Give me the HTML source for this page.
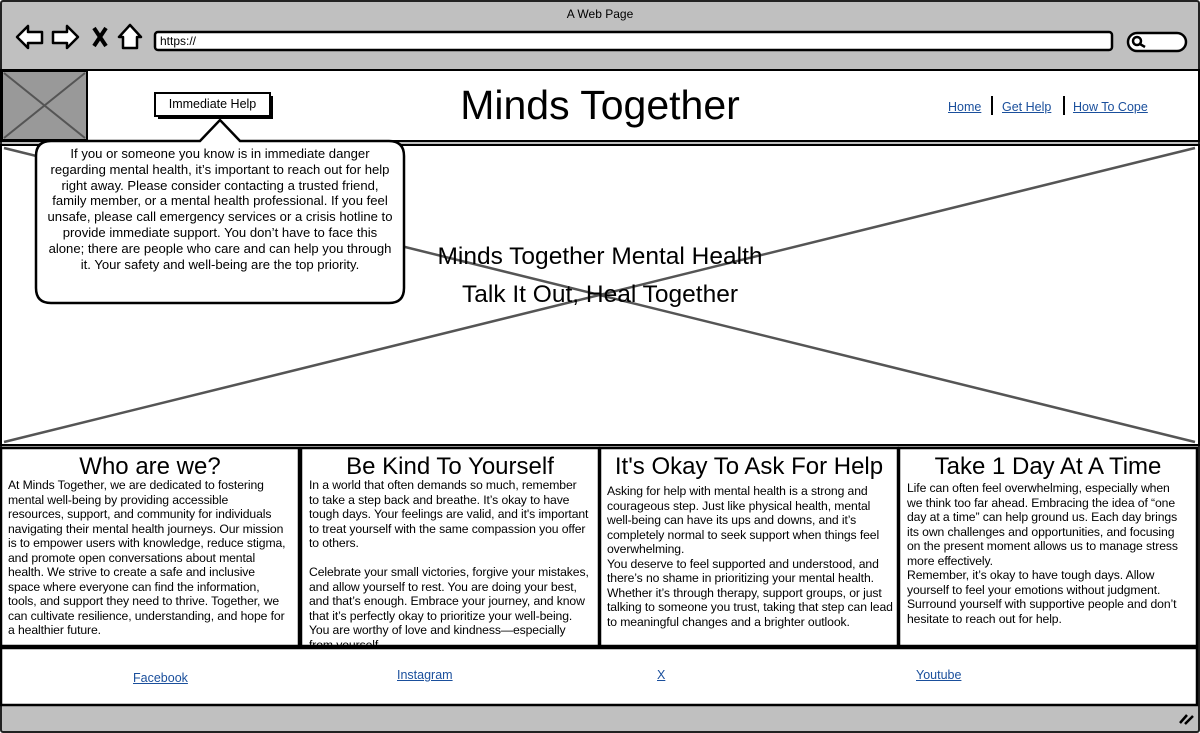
<!DOCTYPE html>
<html><head><meta charset="utf-8"><style>
*{margin:0;padding:0;box-sizing:border-box}
body{width:1200px;height:733px;position:relative;background:#fff;font-family:"Liberation Sans",sans-serif;color:#000;overflow:hidden}
.a{position:absolute}
.t{position:absolute;white-space:nowrap;font-size:12.2px;line-height:14.5px;letter-spacing:-0.1px}
.h{position:absolute;font-size:24px;text-align:center;white-space:nowrap}
a{color:#1a4f9c;text-decoration:underline;font-size:12.5px}
</style></head><body>
<div class="a" style="left:0;top:0;width:1200px;height:733px;background:#c0c0c0;border:2px solid #222;border-radius:3px"></div>
<div class="a" style="left:0;top:7px;width:1200px;text-align:center;font-size:12px">A Web Page</div>
<svg class="a" style="left:0;top:0" width="1200" height="733">
<g fill="#fff" stroke="#000" stroke-width="2.5" stroke-linejoin="round">
<path d="M17 37 L28 26 L28 32 L42 32 L42 43 L28 43 L28 48 Z"/>
<path d="M78 37 L67 26 L67 32 L53 32 L53 43 L67 43 L67 48 Z"/>
<path d="M130 25 L119 37 L123 37 L123 48 L137 48 L137 37 L141 37 Z"/>
</g>
<path d="M94 28 L106 46 M106 28 L94 46" stroke="#000" stroke-width="4"/>
<rect x="155" y="32" width="957" height="18" rx="3" fill="#fff" stroke="#000" stroke-width="2.5"/>
<rect x="1128" y="33" width="58" height="18" rx="9" fill="#fff" stroke="#000" stroke-width="2.5"/>
<circle cx="1137" cy="41" r="4" fill="none" stroke="#000" stroke-width="2.5"/><path d="M1140 44 L1145 47" stroke="#000" stroke-width="2.5"/>
<rect x="1" y="70" width="1198" height="71" fill="#fff" stroke="#000" stroke-width="2"/>
<rect x="2" y="71" width="85" height="69" fill="#999" stroke="#000" stroke-width="2"/>
<path d="M4 73 L85 138 M85 73 L4 138" stroke="#555" stroke-width="2"/>
<rect x="1" y="145" width="1198" height="300" fill="#fff" stroke="#000" stroke-width="2"/>
<path d="M4 148 L1195 442 M1195 148 L4 442" stroke="#555" stroke-width="2.5"/>
<rect x="1" y="448" width="298" height="198" fill="#fff" stroke="#000" stroke-width="2.5"/>
<rect x="301" y="448" width="298" height="198" fill="#fff" stroke="#000" stroke-width="2.5"/>
<rect x="600" y="448" width="298" height="198" fill="#fff" stroke="#000" stroke-width="2.5"/>
<rect x="899" y="448" width="298" height="198" fill="#fff" stroke="#000" stroke-width="2.5"/>
<rect x="1" y="648" width="1196" height="57" fill="#fff" stroke="#000" stroke-width="2.5"/>
<path d="M1180 723 L1187 715 M1185 724 L1193 716" stroke="#000" stroke-width="2.5"/>
<rect x="158" y="96" width="115" height="23" fill="#000"/>
<rect x="155" y="93" width="115" height="23" fill="#fff" stroke="#000" stroke-width="2"/>
<path d="M36 156 Q36 141 51 141 L200 141 L220 120 L240 141 L389 141 Q404 141 404 156 L404 288 Q404 303 389 303 L51 303 Q36 303 36 288 Z" fill="#fff" stroke="#000" stroke-width="2.5"/>
<path d="M992 96 L992 115 M1064 96 L1064 115" stroke="#000" stroke-width="2"/>
</svg>
<div class="a" style="left:155px;top:97px;width:115px;text-align:center;font-size:12.5px">Immediate Help</div>
<div class="a" style="left:300px;top:81px;width:600px;text-align:center;font-size:41px;line-height:48px">Minds Together</div>
<div class="a" style="left:948px;top:98px"><a>Home</a></div>
<div class="a" style="left:1002px;top:98px"><a>Get Help</a></div>
<div class="a" style="left:1073px;top:98px"><a>How To Cope</a></div>
<div class="a" style="left:300px;top:238px;width:600px;text-align:center;font-size:24.5px;line-height:38px">Minds Together Mental Health<br>Talk It Out, Heal Together</div>
<div class="t" style="left:36px;top:146px;width:368px;text-align:center;line-height:15.8px;font-size:13.1px;letter-spacing:0">If you or someone you know is in immediate danger<br>regarding mental health, it’s important to reach out for help<br>right away. Please consider contacting a trusted friend,<br>family member, or a mental health professional. If you feel<br>unsafe, please call emergency services or a crisis hotline to<br>provide immediate support. You don’t have to face this<br>alone; there are people who care and can help you through<br>it. Your safety and well-being are the top priority.</div>
<div class="h" style="left:2px;top:453px;width:296px">Who are we?</div>
<div class="h" style="left:302px;top:453px;width:296px">Be Kind To Yourself</div>
<div class="h" style="left:601px;top:453px;width:296px">It's Okay To Ask For Help</div>
<div class="h" style="left:900px;top:453px;width:296px">Take 1 Day At A Time</div>
<div class="t" style="left:8px;top:478px">At Minds Together, we are dedicated to fostering<br>mental well-being by providing accessible<br>resources, support, and community for individuals<br>navigating their mental health journeys. Our mission<br>is to empower users with knowledge, reduce stigma,<br>and promote open conversations about mental<br>health. We strive to create a safe and inclusive<br>space where everyone can find the information,<br>tools, and support they need to thrive. Together, we<br>can cultivate resilience, understanding, and hope for<br>a healthier future.</div>
<div class="a" style="left:303px;top:478px;width:294px;height:167px;overflow:hidden"><div class="t" style="left:6px;top:0">In a world that often demands so much, remember<br>to take a step back and breathe. It’s okay to have<br>tough days. Your feelings are valid, and it's important<br>to treat yourself with the same compassion you offer<br>to others.<br>&nbsp;<br>Celebrate your small victories, forgive your mistakes,<br>and allow yourself to rest. You are doing your best,<br>and that’s enough. Embrace your journey, and know<br>that it’s perfectly okay to prioritize your well-being.<br>You are worthy of love and kindness—especially<br>from yourself.</div></div>
<div class="t" style="left:607px;top:484px">Asking for help with mental health is a strong and<br>courageous step. Just like physical health, mental<br>well-being can have its ups and downs, and it’s<br>completely normal to seek support when things feel<br>overwhelming.<br>You deserve to feel supported and understood, and<br>there’s no shame in prioritizing your mental health.<br>Whether it’s through therapy, support groups, or just<br>talking to someone you trust, taking that step can lead<br>to meaningful changes and a brighter outlook.</div>
<div class="t" style="left:907px;top:481px">Life can often feel overwhelming, especially when<br>we think too far ahead. Embracing the idea of “one<br>day at a time” can help ground us. Each day brings<br>its own challenges and opportunities, and focusing<br>on the present moment allows us to manage stress<br>more effectively.<br>Remember, it’s okay to have tough days. Allow<br>yourself to feel your emotions without judgment.<br>Surround yourself with supportive people and don’t<br>hesitate to reach out for help.</div>
<div class="a" style="left:133px;top:669px"><a>Facebook</a></div>
<div class="a" style="left:397px;top:666px"><a>Instagram</a></div>
<div class="a" style="left:657px;top:666px"><a>X</a></div>
<div class="a" style="left:916px;top:666px"><a>Youtube</a></div>
<div class="a" style="left:160px;top:34px;font-size:12px">https://</div>
</body></html>
